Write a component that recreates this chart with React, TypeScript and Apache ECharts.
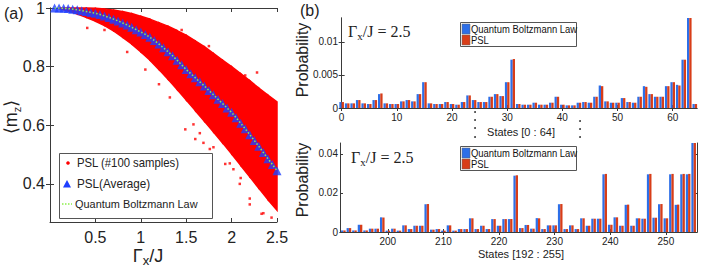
import React, { useEffect, useRef } from "react";
import * as echarts from "echarts";

// ---------- Panel (a) data ----------
const gammaAvg = [0.05, 0.1, 0.15, 0.2, 0.25, 0.3, 0.35, 0.4, 0.45, 0.5, 0.55, 0.6, 0.65, 0.7, 0.75, 0.8, 0.85, 0.9, 0.95, 1.0,
  1.05, 1.1, 1.15, 1.2, 1.25, 1.3, 1.35, 1.4, 1.45, 1.5, 1.55, 1.6, 1.65, 1.7, 1.75, 1.8, 1.85, 1.9, 1.95, 2.0,
  2.05, 2.1, 2.15, 2.2, 2.25, 2.3, 2.35, 2.4, 2.45, 2.5];
const mzAvg = [1.0, 1.0, 0.999, 0.998, 0.996, 0.994, 0.991, 0.988, 0.985, 0.982, 0.978, 0.973, 0.968, 0.962, 0.956, 0.949, 0.942, 0.934, 0.926, 0.918,
  0.91, 0.9, 0.889, 0.877, 0.864, 0.851, 0.837, 0.822, 0.806, 0.79, 0.776, 0.762, 0.748, 0.734, 0.719, 0.704, 0.689, 0.674, 0.659, 0.644,
  0.626, 0.607, 0.588, 0.568, 0.548, 0.528, 0.507, 0.486, 0.466, 0.445];
const mzQbl = mzAvg.slice();

const cloudGamma = [0.1, 0.2, 0.3, 0.4, 0.5, 0.6, 0.7, 0.8, 0.9, 1.0, 1.1, 1.2, 1.3, 1.4, 1.5, 1.6, 1.7, 1.8, 1.9, 2.0, 2.1, 2.2, 2.3, 2.4, 2.5];
const cloudUpper = [1.0, 1.0, 1.0, 1.0, 0.999, 0.997, 0.993, 0.988, 0.981, 0.972, 0.962, 0.95, 0.938, 0.923, 0.907, 0.888, 0.868, 0.845, 0.822, 0.8, 0.776, 0.752, 0.727, 0.703, 0.68];
const cloudLower = [0.998, 0.99, 0.98, 0.968, 0.955, 0.94, 0.922, 0.9, 0.877, 0.85, 0.822, 0.79, 0.757, 0.722, 0.686, 0.65, 0.614, 0.577, 0.54, 0.502, 0.463, 0.424, 0.385, 0.346, 0.31];
const outlierGamma = [0.41, 0.6, 0.85, 1.05, 1.2, 1.32, 1.45, 1.49, 1.58, 1.6, 1.65, 1.69, 1.75, 1.76, 1.8, 1.93, 1.98, 2.02, 2.09, 2.1, 2.15, 2.2, 2.2, 2.28, 2.33, 2.35, 2.44];
const outlierMz = [0.932, 0.925, 0.85, 0.79, 0.74, 0.695, 0.925, 0.586, 0.603, 0.553, 0.573, 0.54, 0.87, 0.519, 0.525, 0.468, 0.47, 0.45, 0.4, 0.42, 0.77, 0.33, 0.35, 0.78, 0.298, 0.3, 0.285];

const xTicksA = [0.5, 1, 1.5, 2, 2.5];
const yTicksA = [0.4, 0.6, 0.8, 1];

// ---------- Panel (b) data ----------
const topStates = Array.from({ length: 65 }, (_, i) => i);
const qblTop = [0.0009, 0.0007, 0.0007, 0.0012, 0.0007, 0.0006, 0.0012, 0.0021, 0.0007, 0.0006, 0.0006, 0.001, 0.0012, 0.001, 0.0021, 0.0039,
  0.0007, 0.0006, 0.0006, 0.0009, 0.0006, 0.0005, 0.0009, 0.0019, 0.0012, 0.0009, 0.0009, 0.0017, 0.0021, 0.0018, 0.0039, 0.0073,
  0.0006, 0.0005, 0.0005, 0.0008, 0.0005, 0.0005, 0.0008, 0.0017, 0.0005, 0.0004, 0.0004, 0.0008, 0.0009, 0.0008, 0.0017, 0.0034,
  0.001, 0.0008, 0.0008, 0.0015, 0.0009, 0.0008, 0.0017, 0.0033, 0.0021, 0.0017, 0.0017, 0.0033, 0.0039, 0.0035, 0.0073, 0.0137, 0.0006];
const pslTop = [0.0009, 0.0007, 0.0007, 0.0012, 0.0007, 0.0006, 0.0012, 0.0022, 0.0007, 0.0006, 0.0006, 0.001, 0.0012, 0.001, 0.0021, 0.0039,
  0.0007, 0.0006, 0.0006, 0.0009, 0.0006, 0.0005, 0.0009, 0.0019, 0.0012, 0.0009, 0.0009, 0.0017, 0.0021, 0.0018, 0.0039, 0.0074,
  0.0006, 0.0005, 0.0005, 0.0008, 0.0005, 0.0005, 0.0008, 0.0017, 0.0005, 0.0004, 0.0004, 0.0008, 0.0009, 0.0008, 0.0017, 0.0033,
  0.001, 0.0008, 0.0008, 0.0015, 0.0009, 0.0008, 0.0017, 0.0032, 0.0021, 0.0017, 0.0017, 0.0033, 0.0039, 0.0034, 0.0073, 0.0137, 0.0006];

const bottomStates = Array.from({ length: 64 }, (_, i) => 192 + i);
const qblBottom = [0.0008, 0.002, 0.0008, 0.0037, 0.0008, 0.0017, 0.0017, 0.0075, 0.0007, 0.0017, 0.0007, 0.0034, 0.0015, 0.0032, 0.0032, 0.0142,
  0.0012, 0.0015, 0.0007, 0.0034, 0.0007, 0.0015, 0.0015, 0.007, 0.0015, 0.0032, 0.0015, 0.0066, 0.0032, 0.0066, 0.0066, 0.0288,
  0.002, 0.0036, 0.0017, 0.0071, 0.0015, 0.0034, 0.0034, 0.0142, 0.0015, 0.0034, 0.0015, 0.007, 0.0032, 0.0068, 0.0068, 0.0295,
  0.0037, 0.0075, 0.0032, 0.0139, 0.0032, 0.007, 0.0068, 0.0295, 0.0073, 0.0142, 0.007, 0.0295, 0.0139, 0.0295, 0.0295, 0.046];
const pslBottom = [0.0008, 0.002, 0.0008, 0.0037, 0.0008, 0.0017, 0.0017, 0.0074, 0.0007, 0.0017, 0.0007, 0.0034, 0.0015, 0.0032, 0.0032, 0.0143,
  0.0012, 0.0015, 0.0007, 0.0034, 0.0007, 0.0015, 0.0015, 0.007, 0.0015, 0.0032, 0.0015, 0.0066, 0.0032, 0.0066, 0.0066, 0.029,
  0.002, 0.0036, 0.0017, 0.007, 0.0015, 0.0034, 0.0034, 0.0143, 0.0015, 0.0034, 0.0015, 0.007, 0.0032, 0.0068, 0.0068, 0.0297,
  0.0037, 0.0075, 0.0032, 0.014, 0.0032, 0.007, 0.0068, 0.0297, 0.0073, 0.0143, 0.007, 0.0297, 0.014, 0.0297, 0.0297, 0.046];

const xTicksTop = [0, 10, 20, 30, 40, 50, 60];
const yTicksTop = [0, 0.005, 0.01];
const xTicksBottom = [200, 210, 220, 230, 240, 250];
const yTicksBottom = [0, 0.02, 0.04];

const SANS = "Liberation Sans, Arial, sans-serif";
const SERIF = "Liberation Serif, DejaVu Serif, serif";
const AX = "#3a3a3a";
const BLUE = "#2d6fe8";
const RED = "#d83d18";

function boxAxes(grid: number, xmin: number, xmax: number, ymin: number, ymax: number, xt: number[], yt: number[], fs: number, tickLen: number, lblMargin: number) {
  const line = { show: true, lineStyle: { color: AX, width: 1 } };
  const xa = [
    {
      type: "value", gridIndex: grid, min: xmin, max: xmax, position: "bottom",
      axisLine: line, splitLine: { show: false },
      axisTick: { show: true, inside: true, length: tickLen, customValues: xt, lineStyle: { color: AX } },
      axisLabel: { show: true, customValues: xt, fontSize: fs, color: "#222", fontFamily: SANS, margin: lblMargin },
    },
    {
      type: "value", gridIndex: grid, min: xmin, max: xmax, position: "top",
      axisLine: line, splitLine: { show: false },
      axisTick: { show: true, inside: true, length: tickLen, customValues: xt, lineStyle: { color: AX } },
      axisLabel: { show: false },
    },
  ];
  const ya = [
    {
      type: "value", gridIndex: grid, min: ymin, max: ymax, position: "left",
      axisLine: line, splitLine: { show: false },
      axisTick: { show: true, inside: true, length: tickLen, customValues: yt, lineStyle: { color: AX } },
      axisLabel: { show: true, customValues: yt, fontSize: fs, color: "#222", fontFamily: SANS, margin: lblMargin - 2 },
    },
    {
      type: "value", gridIndex: grid, min: ymin, max: ymax, position: "right",
      axisLine: line, splitLine: { show: false },
      axisTick: { show: true, inside: true, length: tickLen, customValues: yt, lineStyle: { color: AX } },
      axisLabel: { show: false },
    },
  ];
  return { xa, ya };
}

export default function App() {
  const ref = useRef<HTMLDivElement>(null);
  useEffect(() => {
    if (!ref.current) return;
    const chart = echarts.init(ref.current, null, { renderer: "svg" });

    const a = boxAxes(0, 0, 2.5, 0.27, 1, xTicksA, yTicksA, 16, 4, 7);
    const t = boxAxes(1, -0.3, 64.4, 0, 0.0136, xTicksTop, yTicksTop, 10, 3, 4);
    const b = boxAxes(2, 191.4, 255.6, 0, 0.0455, xTicksBottom, yTicksBottom, 10, 3, 4);

    const cloudSegs = cloudGamma.slice(0, -1).map((g, i) => [g, cloudLower[i], cloudUpper[i], cloudGamma[i + 1], cloudLower[i + 1], cloudUpper[i + 1]]);

    const graphic: any[] = [
      { type: "text", x: 4, y: 13, style: { text: "(a)", fontSize: 16, fontFamily: SANS, fill: "#222", verticalAlign: "middle" } },
      { type: "text", x: 300, y: 10, style: { text: "(b)", fontSize: 16, fontFamily: SANS, fill: "#222", verticalAlign: "middle" } },
      {
        type: "text", x: 11, y: 117, rotation: Math.PI / 2,
        style: {
          text: "{a|⟨m}{s|z}{a|⟩}", align: "center", verticalAlign: "middle", fill: "#222",
          rich: { a: { fontSize: 18, fontFamily: SANS, lineHeight: 22 }, s: { fontSize: 11, fontFamily: SANS, lineHeight: 11, verticalAlign: "bottom" } },
        },
      },
      {
        type: "text", x: 148, y: 256,
        style: {
          text: "{a|Γ}{s|x}{a|/J}", align: "center", verticalAlign: "middle", fill: "#222",
          rich: { a: { fontSize: 18, fontFamily: SANS, lineHeight: 22 }, s: { fontSize: 13, fontFamily: SANS, lineHeight: 13, verticalAlign: "bottom" } },
        },
      },
      { type: "rect", shape: { x: 59.5, y: 153.5, width: 153, height: 65 }, style: { fill: "#fff", stroke: "#555", lineWidth: 1 }, z: 100 },
      { type: "circle", shape: { cx: 68, cy: 163, r: 1.8 }, style: { fill: "#ff0000" }, z: 101 },
      { type: "text", x: 77, y: 163, z: 101, scaleX: 0.87, style: { text: "PSL (#100 samples)", fontSize: 13, fontFamily: SANS, fill: "#222", verticalAlign: "middle" } },
      { type: "polygon", shape: { points: [[67, 180], [63, 187.5], [71, 187.5]] }, style: { fill: "#1f3fff" }, z: 101 },
      { type: "text", x: 77, y: 184, z: 101, scaleX: 0.9, style: { text: "PSL(Average)", fontSize: 13, fontFamily: SANS, fill: "#222", verticalAlign: "middle" } },
      { type: "line", shape: { x1: 62, y1: 204, x2: 72, y2: 204 }, style: { stroke: "#8cf04a", lineWidth: 1.5, lineDash: [1.5, 1.5] }, z: 101 },
      { type: "text", x: 75, y: 204, z: 101, scaleX: 0.95, style: { text: "Quantum Boltzmann Law", fontSize: 11.5, fontFamily: SANS, fill: "#222", verticalAlign: "middle" } },

      {
        type: "text", x: 302, y: 60, rotation: Math.PI / 2,
        style: { text: "Probability", fontSize: 16, fontFamily: SANS, fill: "#222", align: "center", verticalAlign: "middle" },
      },
      {
        type: "text", x: 302, y: 180, rotation: Math.PI / 2,
        style: { text: "Probability", fontSize: 16, fontFamily: SANS, fill: "#222", align: "center", verticalAlign: "middle" },
      },
      {
        type: "text", x: 348, y: 31,
        style: {
          text: "{a|Γ}{s|x}{a|/J = 2.5}", verticalAlign: "middle", fill: "#222",
          rich: { a: { fontSize: 16, fontFamily: SERIF, lineHeight: 20 }, s: { fontSize: 11, fontFamily: SERIF, lineHeight: 11, verticalAlign: "bottom" } },
        },
      },
      {
        type: "text", x: 351, y: 157,
        style: {
          text: "{a|Γ}{s|x}{a|/J = 2.5}", verticalAlign: "middle", fill: "#222",
          rich: { a: { fontSize: 16, fontFamily: SERIF, lineHeight: 20 }, s: { fontSize: 11, fontFamily: SERIF, lineHeight: 11, verticalAlign: "bottom" } },
        },
      },
      { type: "text", x: 521, y: 132, style: { text: "States [0 : 64]", fontSize: 11, fontFamily: SANS, fill: "#222", align: "center", verticalAlign: "middle" } },
      { type: "text", x: 521, y: 254, style: { text: "States [192 : 255]", fontSize: 11, fontFamily: SANS, fill: "#222", align: "center", verticalAlign: "middle" } },
    ];
    [22, 146].forEach((y0) => {
      graphic.push({ type: "rect", shape: { x: 460.5, y: y0 + 0.5, width: 116, height: 24 }, style: { fill: "#fff", stroke: "#555", lineWidth: 1 }, z: 100 });
      graphic.push({ type: "rect", shape: { x: 462, y: y0 + 2, width: 8, height: 10 }, style: { fill: BLUE, stroke: "#666", lineWidth: 0.5 }, z: 101 });
      graphic.push({ type: "rect", shape: { x: 462, y: y0 + 13, width: 8, height: 10 }, style: { fill: RED, stroke: "#666", lineWidth: 0.5 }, z: 101 });
      graphic.push({ type: "text", x: 471, y: y0 + 7, z: 101, scaleX: 0.86, style: { text: "Quantum Boltzmann Law", fontSize: 11, fontFamily: SANS, fill: "#111", verticalAlign: "middle" } });
      graphic.push({ type: "text", x: 471, y: y0 + 18, z: 101, scaleX: 0.86, style: { text: "PSL", fontSize: 11, fontFamily: SANS, fill: "#111", verticalAlign: "middle" } });
    });
    [[475, 112], [475, 120], [475, 128], [475, 137], [580, 121], [580, 129], [580, 137]].forEach(([cx, cy]) => {
      graphic.push({ type: "circle", shape: { cx, cy, r: 0.9 }, style: { fill: "#222" } });
    });

    const barCommon = { barWidth: 2.3, barGap: "0%" };

    chart.setOption({
      animation: false,
      backgroundColor: "#fff",
      grid: [
        { left: 50, top: 8, width: 227, height: 214 },
        { left: 340, top: 18, width: 357, height: 90 },
        { left: 340, top: 143, width: 357, height: 89 },
      ],
      xAxis: [...a.xa, ...t.xa, ...b.xa],
      yAxis: [...a.ya, ...t.ya, ...b.ya],
      series: [
        {
          type: "custom", xAxisIndex: 0, yAxisIndex: 0, data: cloudSegs, silent: true,
          renderItem: (params: any, api: any) => {
            const p1 = api.coord([api.value(0), api.value(2)]);
            const p2 = api.coord([api.value(3), api.value(5)]);
            const p3 = api.coord([api.value(3), api.value(4)]);
            const p4 = api.coord([api.value(0), api.value(1)]);
            return { type: "polygon", shape: { points: [p1, p2, p3, p4] }, style: { fill: "#ff0000", stroke: "#ff0000", lineWidth: 1.5 } };
          },
        },
        { type: "scatter", xAxisIndex: 0, yAxisIndex: 0, data: outlierGamma.map((g, i) => [g, outlierMz[i]]), symbol: "rect", symbolSize: 2.5, itemStyle: { color: "#ff0000" } },
        { type: "scatter", xAxisIndex: 0, yAxisIndex: 0, data: gammaAvg.map((g, i) => [g, mzAvg[i]]), symbol: "triangle", symbolSize: 9, itemStyle: { color: "#1f3fff" } },
        { type: "line", xAxisIndex: 0, yAxisIndex: 0, data: gammaAvg.map((g, i) => [g, mzQbl[i]]), symbol: "none", lineStyle: { color: "#8cf04a", width: 1.5, type: [1.5, 2] } },

        { type: "bar", name: "Quantum Boltzmann Law", xAxisIndex: 2, yAxisIndex: 2, data: topStates.map((s, i) => [s, qblTop[i]]), itemStyle: { color: BLUE }, ...barCommon },
        { type: "bar", name: "PSL", xAxisIndex: 2, yAxisIndex: 2, data: topStates.map((s, i) => [s, pslTop[i]]), itemStyle: { color: RED }, ...barCommon },
        { type: "bar", name: "Quantum Boltzmann Law", xAxisIndex: 4, yAxisIndex: 4, data: bottomStates.map((s, i) => [s, qblBottom[i]]), itemStyle: { color: BLUE }, ...barCommon },
        { type: "bar", name: "PSL", xAxisIndex: 4, yAxisIndex: 4, data: bottomStates.map((s, i) => [s, pslBottom[i]]), itemStyle: { color: RED }, ...barCommon },
      ],
      graphic,
    });
    return () => chart.dispose();
  }, []);
  return <div ref={ref} style={{ position: "absolute", left: 0, top: 0, width: 706, height: 268 }} />;
}
